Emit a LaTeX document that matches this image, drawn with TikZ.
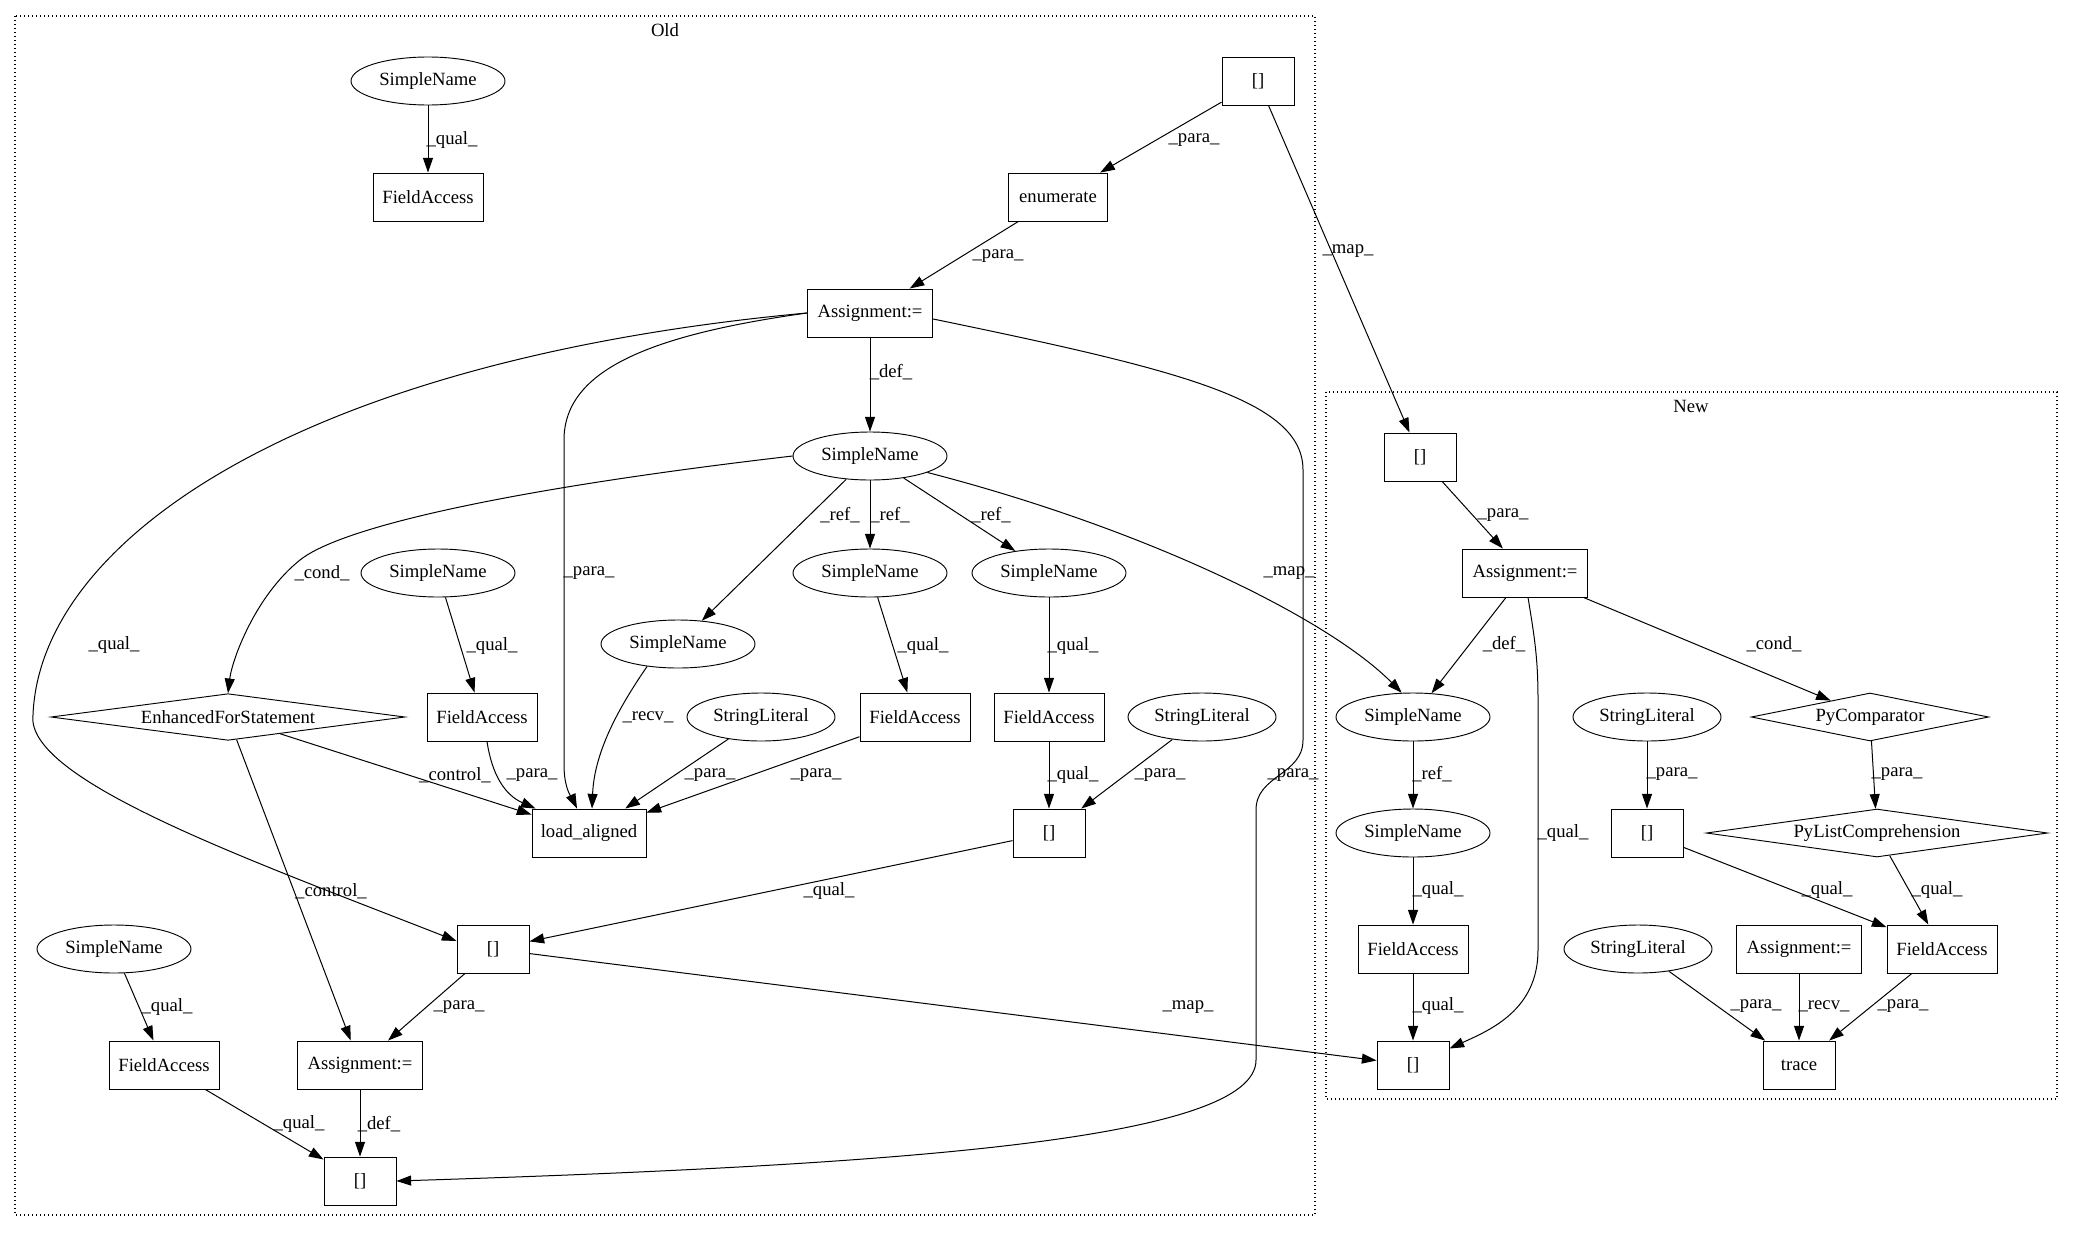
\documentclass[tikz,border=0pt]{standalone}
\usepackage{fontspec}
\setmainfont{Liberation Serif}
\usetikzlibrary{arrows.meta,shapes.geometric,calc}
\newcommand\gvfont{\fontsize{14pt}{16pt}\selectfont}
\begin{document}
\begin{tikzpicture}[x=0.75pt,y=-0.75pt,
  box/.style={draw, rectangle, line width=0.7pt, minimum height=36pt, inner sep=0pt, font=\gvfont},
  fa/.style={box, minimum width=82.5pt},
  br/.style={box, minimum width=54pt},
  asg/.style={box, minimum width=94pt},
  ell/.style={draw, ellipse, line width=0.7pt, minimum width=115.5pt, minimum height=36pt, inner sep=0pt, font=\gvfont},
  sl/.style={ell, minimum width=111pt},
  dia/.style={draw, diamond, line width=0.7pt, inner sep=0pt, shape aspect=7, minimum height=35pt, font=\gvfont},
  conn/.style={draw, line width=0.75pt, -{Triangle[length=11pt,width=7.5pt]}},
  lab/.style={font=\gvfont, inner sep=0pt},
  clus/.style={draw, dotted, line width=1pt}]
\fill[white] (0,0) rectangle (2073,1232);
\useasboundingbox (0,0) rectangle (2073,1232);
% clusters
\draw[clus] (15,16) rectangle (1315,1215);
\node[lab] (oldlab) at (665,30) {Old};
\draw[clus] (1326,392) rectangle (2057,1099);
\node[lab] (newlab) at (1691,406) {New};
% Old nodes
\node[ell] (snA) at (428,81) {SimpleName};
\node[fa] (faA) at (428,197) {FieldAccess};
\node[br] (brTop) at (1258,81) {[]};
\node[box, minimum width=74pt] (enum) at (1058,197) {enumerate};
\node[asg] (asgO) at (870,313) {Assignment:=};
\node[ell] (snB) at (870,456) {SimpleName};
\node[ell] (snC) at (438,573) {SimpleName};
\node[ell] (snD) at (870,573) {SimpleName};
\node[ell] (snE) at (1049,573) {SimpleName};
\node[ell] (snF) at (678,644) {SimpleName};
\node[dia, minimum width=265.5pt] (efs) at (228,717) {EnhancedForStatement};
\node[fa] (faC) at (482,717) {FieldAccess};
\node[sl] (slA) at (761,717) {StringLiteral};
\node[fa] (faD) at (915,717) {FieldAccess};
\node[fa] (faE) at (1049,717) {FieldAccess};
\node[sl] (slB) at (1202,717) {StringLiteral};
\node[box, minimum width=85.5pt] (load) at (589,833) {load\_aligned};
\node[br] (brE) at (1049,833) {[]};
\node[br] (brM) at (493,949) {[]};
\node[ell] (snG) at (114,949) {SimpleName};
\node[fa] (faG) at (164,1065) {FieldAccess};
\node[asg] (asgB) at (360,1065) {Assignment:=};
\node[br] (brB) at (360,1181) {[]};
% New nodes
\node[br] (nbrT) at (1420,457) {[]};
\node[asg] (nasg) at (1525,573) {Assignment:=};
\node[ell] (nsnA) at (1413,717) {SimpleName};
\node[sl] (nslA) at (1647,717) {StringLiteral};
\node[dia, minimum width=178pt, minimum height=36pt] (pycmp) at (1870,717) {PyComparator};
\node[ell] (nsnB) at (1413,833) {SimpleName};
\node[br] (nbrM) at (1647,833) {[]};
\node[dia, minimum width=256pt, minimum height=36pt] (pylc) at (1877,833) {PyListComprehension};
\node[fa] (nfaA) at (1413,949) {FieldAccess};
\node[sl] (nslB) at (1638,949) {StringLiteral};
\node[asg] (nasgB) at (1799,949) {Assignment:=};
\node[fa] (nfaB) at (1942,949) {FieldAccess};
\node[br] (nbrB) at (1413,1065) {[]};
\node[br] (trace) at (1799,1065) {trace};
% Old edges
\draw[conn] (snA) -- (faA) node[lab] (l1) at (452,140) {\_qual\_};
\draw[conn] (brTop) -- (enum) node[lab] (l2) at (1194,140) {\_para\_};
\draw[conn] (brTop) -- (nbrT) node[lab] (l3) at (1348,251) {\_map\_};
\draw[conn] (enum) -- (asgO) node[lab] (l4) at (998,256) {\_para\_};
\draw[conn] (asgO) -- (snB) node[lab] (l5) at (891,372) {\_def\_};
\draw[conn] (asgO.west) .. controls (650,335) and (564,370) .. (564,440) -- (564,765) .. controls (564,790) and (573,800) .. ($(load.north)+(-12,0)$) node[lab] (l6) at (589,573) {\_para\_};
\draw[conn] (asgO.west) .. controls (300,360) and (40,540) .. (33,715) .. controls (25,780) and (250,860) .. ($(brM.west)+(0,-8)$) node[lab] (l7) at (114,645) {\_qual\_};
\draw[conn] ($(asgO.east)+(0,6)$) .. controls (1180,370) and (1303,400) .. (1303,470) -- (1303,740) .. controls (1303,775) and (1256,775) .. (1256,810) -- (1256,1060) .. controls (1256,1140) and (900,1165) .. (brB.east) node[lab] (l8) at (1293,775) {\_para\_};
\draw[conn] (snB.west) .. controls (500,490) and (340,528) .. (300,560) .. controls (255,596) and (232,660) .. (efs.north) node[lab] (l9) at (322,573) {\_cond\_};
\draw[conn] (snB) -- (snF) node[lab] (l10) at (840,515) {\_ref\_};
\draw[conn] (snB) -- (snD) node[lab] (l11) at (890,515) {\_ref\_};
\draw[conn] (snB) -- (snE) node[lab] (l12) at (991,515) {\_ref\_};
\draw[conn] (snB.-16) .. controls (1150,530) and (1330,620) .. (nsnA.115) node[lab] (l13) at (1289,573) {\_map\_};
\draw[conn] (snC) -- (faC) node[lab] (l14) at (492,646) {\_qual\_};
\draw[conn] (snF.216) .. controls (610,720) and (594,760) .. ($(load.north)+(3,0)$) node[lab] (l15) at (648,717) {\_recv\_};
\draw[conn] (slA) -- (load) node[lab] (l16) at (710,775) {\_para\_};
\draw[conn] (faD) -- (load) node[lab] (l17) at (816,775) {\_para\_};
\draw[conn] ($(faC.south)+(5,0)$) .. controls (492,775) and (505,795) .. ($(load.north west)+(4,0)$) node[lab] (l18) at (532,775) {\_para\_};
\draw[conn] (efs) -- (load) node[lab] (l19) at (455,775) {\_control\_};
\draw[conn] (efs) -- (asgB) node[lab] (l20) at (331,891) {\_control\_};
\draw[conn] (snD) -- (faD) node[lab] (l21) at (923,646) {\_qual\_};
\draw[conn] (snE) -- (faE) node[lab] (l22) at (1073,646) {\_qual\_};
\draw[conn] (faE) -- (brE) node[lab] (l23) at (1073,775) {\_qual\_};
\draw[conn] (slB) -- (brE) node[lab] (l24) at (1160,775) {\_para\_};
\draw[conn] (brE) -- (brM) node[lab] (l25) at (829,891) {\_qual\_};
\draw[conn] (brM) -- (asgB) node[lab] (l26) at (459,1007) {\_para\_};
\draw[conn] (brM) -- (nbrB) node[lab] (l27) at (1188,1007) {\_map\_};
\draw[conn] (snG) -- (faG) node[lab] (l28) at (167,1007) {\_qual\_};
\draw[conn] (faG) -- (brB) node[lab] (l29) at (299,1124) {\_qual\_};
\draw[conn] (asgB) -- (brB) node[lab] (l30) at (379,1124) {\_def\_};
% New edges
\draw[conn] (nbrT) -- (nasg) node[lab] (l31) at (1503,515) {\_para\_};
\draw[conn] (nasg) -- (nsnA) node[lab] (l32) at (1504,644) {\_def\_};
\draw[conn] ($(nasg.south)+(3,0)$) .. controls (1535,640) and (1538,660) .. (1538,700) -- (1538,950) .. controls (1538,1010) and (1490,1030) .. ($(nbrB.north east)+(0,8)$) node[lab] (l33) at (1563,833) {\_qual\_};
\draw[conn] (nasg) -- (pycmp) node[lab] (l34) at (1774,644) {\_cond\_};
\draw[conn] (nsnA) -- (nsnB) node[lab] (l35) at (1432,774) {\_ref\_};
\draw[conn] (nsnB) -- (nfaA) node[lab] (l36) at (1438,890) {\_qual\_};
\draw[conn] (nfaA) -- (nbrB) node[lab] (l37) at (1438,1006) {\_qual\_};
\draw[conn] (nslA) -- (nbrM) node[lab] (l38) at (1672,774) {\_para\_};
\draw[conn] (pycmp) -- (pylc) node[lab] (l39) at (1897,774) {\_para\_};
\draw[conn] (nbrM) -- (nfaB) node[lab] (l40) at (1827,890) {\_qual\_};
\draw[conn] (pylc) -- (nfaB) node[lab] (l41) at (1937,890) {\_qual\_};
\draw[conn] (nslB) -- (trace) node[lab] (l42) at (1756,1006) {\_para\_};
\draw[conn] (nasgB) -- (trace) node[lab] (l43) at (1824,1006) {\_recv\_};
\draw[conn] (nfaB) -- (trace) node[lab] (l44) at (1903,1006) {\_para\_};
\end{tikzpicture}
\end{document}
